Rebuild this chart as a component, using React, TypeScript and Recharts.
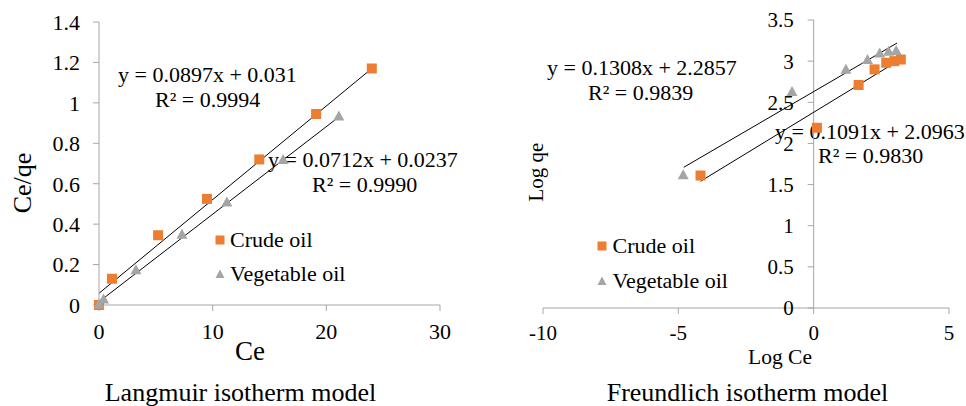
import React from 'react';
import {
  ScatterChart,
  Scatter,
  XAxis,
  YAxis,
  ReferenceLine,
  ReferenceDot,
  Legend,
} from 'recharts';

const FONT = '"Liberation Serif", "Times New Roman", serif';
const ORANGE = '#ED7D31';
const GRAY = '#A5A5A5';
const AXIS = '#A6A6A6';

// ---- Langmuir isotherm: Ce vs Ce/qe ----
const langmuirCrude = [
  { x: 0, y: 0 },
  { x: 1.14, y: 0.13 },
  { x: 5.2, y: 0.345 },
  { x: 9.5, y: 0.525 },
  { x: 14.1, y: 0.72 },
  { x: 19.1, y: 0.945 },
  { x: 24.0, y: 1.17 },
];
const langmuirVeg = [
  { x: 0, y: 0.005 },
  { x: 0.4, y: 0.03 },
  { x: 3.25, y: 0.175 },
  { x: 7.3, y: 0.35 },
  { x: 11.25, y: 0.51 },
  { x: 16.2, y: 0.72 },
  { x: 21.1, y: 0.935 },
];
const langmuirCrudeFit = [
  { x: 0, y: 0.058 },
  { x: 24, y: 1.17 },
];
const langmuirVegFit = [
  { x: 0, y: 0.016 },
  { x: 21.1, y: 0.93 },
];
const langmuirXTicks = [0, 10, 20, 30];
const langmuirYTicks = [0, 0.2, 0.4, 0.6, 0.8, 1, 1.2, 1.4];
const langmuirCrudeEq = ['y = 0.0897x + 0.031', 'R² = 0.9994'];
const langmuirVegEq = ['y = 0.0712x + 0.0237', 'R² = 0.9990'];

// ---- Freundlich isotherm: Log Ce vs Log qe ----
const freundlichCrude = [
  { x: -4.18, y: 1.61 },
  { x: 0.12, y: 2.19 },
  { x: 1.66, y: 2.71 },
  { x: 2.25, y: 2.9 },
  { x: 2.68, y: 2.98 },
  { x: 2.98, y: 3.0 },
  { x: 3.22, y: 3.02 },
];
const freundlichVeg = [
  { x: -4.82, y: 1.62 },
  { x: -0.8, y: 2.63 },
  { x: 1.19, y: 2.9 },
  { x: 1.99, y: 3.02 },
  { x: 2.44, y: 3.1 },
  { x: 2.77, y: 3.12 },
  { x: 3.05, y: 3.13 },
];
const freundlichCrudeFit = [
  { x: -4.18, y: 1.54 },
  { x: 3.2, y: 3.02 },
];
const freundlichVegFit = [
  { x: -4.8, y: 1.71 },
  { x: 3.08, y: 3.22 },
];
const freundlichXTicks = [-10, -5, 0, 5];
const freundlichYTicks = [0, 0.5, 1, 1.5, 2, 2.5, 3, 3.5];
const freundlichVegEq = ['y = 0.1308x + 2.2857', 'R² = 0.9839'];
const freundlichCrudeEq = ['y = 0.1091x + 2.0963', 'R² = 0.9830'];

const seriesNames = ['Crude oil', 'Vegetable oil'];

const SquareMark = (props: any) => {
  const { cx, cy } = props;
  if (cx == null || cy == null) return null;
  return <rect x={cx - 5} y={cy - 5} width={10} height={10} fill={ORANGE} />;
};

const TriangleMark = (props: any) => {
  const { cx, cy } = props;
  if (cx == null || cy == null) return null;
  return (
    <polygon
      points={`${cx},${cy - 5.5} ${cx + 5.5},${cy + 4.5} ${cx - 5.5},${cy + 4.5}`}
      fill={GRAY}
    />
  );
};

const makeLegend = (rowH: number) => (props: any) => {
  const payload = props.payload || [];
  return (
    <div style={{ fontFamily: FONT, fontSize: 22, color: '#000' }}>
      {payload.map((p: any) => (
        <div
          key={p.value}
          style={{ display: 'flex', alignItems: 'center', height: rowH, lineHeight: `${rowH}px`, whiteSpace: 'nowrap' }}
        >
          <svg width={14} height={14} style={{ marginRight: 3.5, display: 'block' }}>
            {p.value === seriesNames[0] ? (
              <rect x={2.5} y={2.5} width={9} height={9} fill={ORANGE} />
            ) : (
              <polygon points="7,2.5 11.5,11 2.5,11" fill={GRAY} />
            )}
          </svg>
          <span>{p.value}</span>
        </div>
      ))}
    </div>
  );
};

// tick mark + label on the vertical axis that crosses at x = 0
const crossTick = (label: string) => (props: any) => {
  const { cx, cy } = props;
  if (cx == null || cy == null) return null;
  return (
    <g>
      <line x1={cx - 6} x2={cx} y1={cy} y2={cy} stroke={AXIS} strokeWidth={1} />
      <text
        x={cx - 20}
        y={cy}
        dy="0.355em"
        textAnchor="end"
        fontFamily={FONT}
        fontSize={21}
        fill="#000"
      >
        {label}
      </text>
    </g>
  );
};

const textStyle = { fontFamily: FONT, fill: '#000' } as const;

const LangmuirChart = () => (
  <ScatterChart width={480} height={406} margin={{ top: 22, right: 40, bottom: 71, left: 39 }}>
    <XAxis
      type="number"
      dataKey="x"
      domain={[0, 30]}
      ticks={langmuirXTicks}
      height={30}
      axisLine={{ stroke: AXIS }}
      tickLine={{ stroke: AXIS }}
      tickSize={6}
      tickMargin={12}
      tick={{ fontFamily: FONT, fontSize: 22, fill: '#000' }}
    />
    <YAxis
      type="number"
      dataKey="y"
      domain={[0, 1.4]}
      ticks={langmuirYTicks}
      width={60}
      axisLine={{ stroke: AXIS }}
      tickLine={{ stroke: AXIS }}
      tickSize={6}
      tickMargin={13}
      tick={{ fontFamily: FONT, fontSize: 22, fill: '#000' }}
    />
    <Scatter name={seriesNames[0]} data={langmuirCrude} shape={SquareMark} isAnimationActive={false} />
    <Scatter name={seriesNames[1]} data={langmuirVeg} shape={TriangleMark} isAnimationActive={false} />
    <ReferenceLine
      segment={langmuirCrudeFit}
      stroke="#000"
      strokeWidth={1}
      ifOverflow="visible"
    />
    <ReferenceLine
      segment={langmuirVegFit}
      stroke="#000"
      strokeWidth={1}
      ifOverflow="visible"
    />
    <Legend
      layout="vertical"
      align="center"
      verticalAlign="middle"
      wrapperStyle={{ left: 212.5, top: 222.6, width: 'auto' }}
      content={makeLegend(34)}
    />
    <text x={118} y={82} fontSize={22} {...textStyle}>{langmuirCrudeEq[0]}</text>
    <text x={155} y={107} fontSize={22} {...textStyle}>{langmuirCrudeEq[1]}</text>
    <text x={268} y={167} fontSize={22} {...textStyle}>{langmuirVegEq[0]}</text>
    <text x={312} y={192} fontSize={22} {...textStyle}>{langmuirVegEq[1]}</text>
    <text x={250} y={360} fontSize={27} textAnchor="middle" {...textStyle}>Ce</text>
    <text transform="translate(31,183) rotate(-90)" fontSize={26} textAnchor="middle" {...textStyle}>
      Ce/qe
    </text>
    <text x={240.5} y={401} fontSize={26} textAnchor="middle" {...textStyle}>
      Langmuir isotherm model
    </text>
  </ScatterChart>
);

const FreundlichChart = () => (
  <ScatterChart width={486} height={406} margin={{ top: 20, right: 17, bottom: 68, left: 63 }}>
    <XAxis
      type="number"
      dataKey="x"
      domain={[-10, 5]}
      ticks={freundlichXTicks}
      height={30}
      axisLine={{ stroke: AXIS }}
      tickLine={{ stroke: AXIS }}
      tickSize={6}
      tickMargin={11}
      tick={{ fontFamily: FONT, fontSize: 21, fill: '#000' }}
    />
    <YAxis type="number" dataKey="y" domain={[0, 3.5]} ticks={freundlichYTicks} hide />
    <ReferenceLine x={0} stroke={AXIS} strokeWidth={1} />
    {freundlichYTicks.map((v) => (
      <ReferenceDot key={v} x={0} y={v} r={0} shape={crossTick(String(v))} />
    ))}
    <Scatter name={seriesNames[0]} data={freundlichCrude} shape={SquareMark} isAnimationActive={false} />
    <Scatter name={seriesNames[1]} data={freundlichVeg} shape={TriangleMark} isAnimationActive={false} />
    <ReferenceLine
      segment={freundlichVegFit}
      stroke="#000"
      strokeWidth={1}
      ifOverflow="visible"
    />
    <ReferenceLine
      segment={freundlichCrudeFit}
      stroke="#000"
      strokeWidth={1}
      ifOverflow="visible"
    />
    <Legend
      layout="vertical"
      align="center"
      verticalAlign="middle"
      wrapperStyle={{ left: 115, top: 228.1, width: 'auto' }}
      content={makeLegend(35)}
    />
    <text x={67} y={75} fontSize={22} {...textStyle}>{freundlichVegEq[0]}</text>
    <text x={108} y={100} fontSize={22} {...textStyle}>{freundlichVegEq[1]}</text>
    <text x={295} y={139} fontSize={22} {...textStyle}>{freundlichCrudeEq[0]}</text>
    <text x={338} y={163} fontSize={22} {...textStyle}>{freundlichCrudeEq[1]}</text>
    <text x={300} y={364} fontSize={21.5} textAnchor="middle" {...textStyle}>Log Ce</text>
    <text transform="translate(63,172) rotate(-90)" fontSize={21} textAnchor="middle" {...textStyle}>
      Log qe
    </text>
    <text x={267.5} y={401} fontSize={26} textAnchor="middle" {...textStyle}>
      Freundlich isotherm model
    </text>
  </ScatterChart>
);

export default function App() {
  return (
    <div
      style={{
        position: 'absolute',
        left: 0,
        top: 0,
        width: 966,
        height: 406,
        background: '#fff',
        overflow: 'hidden',
        fontFamily: FONT,
      }}
    >
      <div style={{ position: 'absolute', left: 0, top: 0 }}>
        <LangmuirChart />
      </div>
      <div style={{ position: 'absolute', left: 480, top: 0 }}>
        <FreundlichChart />
      </div>
    </div>
  );
}
